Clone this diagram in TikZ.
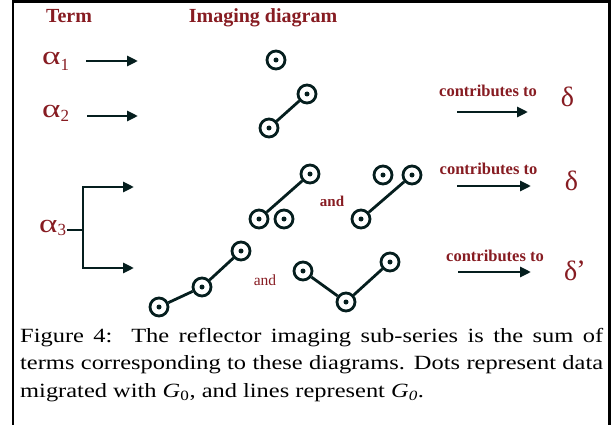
\documentclass[tikz,border=0pt]{standalone}
\usepackage{fontspec}
\setmainfont{Liberation Serif}
\usepackage{graphicx}
\usetikzlibrary{arrows.meta}
\definecolor{tred}{RGB}{135,28,34}
\definecolor{ink}{RGB}{5,30,30}
\newcommand\capsx{1.21}
\newcommand\caplw{481.8}
\newcommand\gsub[2]{\raisebox{#1}{\fontsize{17}{17}\selectfont #2}}
\begin{document}
\begin{tikzpicture}[x=1pt,y=-1pt,
  dot/.style={circle, draw=ink, line width=2.8pt, minimum size=18pt, inner sep=0pt, fill=white,
    path picture={\fill[ink] (path picture bounding box.center) circle (2.5pt);}},
  conn/.style={draw=ink, line width=2.8pt},
  arr/.style={draw=ink, line width=2.9pt, -{Triangle[length=11pt,width=10pt]}},
  hdr/.style={text=tred, font=\fontsize{20}{20}\selectfont\bfseries, inner sep=0pt, anchor=base},
  greek/.style={text=tred, font=\fontsize{26}{26}\selectfont, inner sep=0pt, anchor=base west},
  contr/.style={text=tred, font=\fontsize{16.5}{17}\selectfont\bfseries, inner sep=0pt, anchor=base},
  andb/.style={text=tred, font=\fontsize{15}{15}\selectfont\bfseries, inner sep=0pt, anchor=base},
  andn/.style={text=tred, font=\fontsize{15.5}{15}\selectfont, inner sep=0pt, anchor=base},
  dlt/.style={text=tred, font=\fontsize{28}{28}\selectfont, inner sep=0pt, anchor=base},
  capt/.style={text=black, font=\fontsize{20.2}{27.5}\selectfont, inner sep=0pt, anchor=base west}]
\useasboundingbox (0,0) rectangle (613,425);
\fill[white] (0,0) rectangle (613,425);
% frame
\coordinate (f1) at (13,425);
\coordinate (f2) at (13,1.3);
\coordinate (f3) at (609.5,1.3);
\coordinate (f4) at (609.5,425);
\draw[black, line width=2.6pt] (f1) -- (f2) -- (f3) -- (f4);
% headers
\node[hdr] (term) at (69,22.5) {Term};
\node[hdr] (imgd) at (263,22.5) {Imaging diagram};
% alpha labels
\node[greek] (a1) at (42,65) {\scalebox{1.35}[1]{α}\gsub{-6pt}{1}};
\node[greek] (a2) at (42,118) {\scalebox{1.35}[1]{α}\gsub{-4pt}{2}};
\node[greek] (a3) at (39,232) {\scalebox{1.35}[1]{α}\gsub{-3pt}{3}};
% arrows alpha1, alpha2
\coordinate (a1s) at (86,61); \coordinate (a1e) at (138,61);
\coordinate (a2s) at (87,116); \coordinate (a2e) at (138,116);
\draw[arr] (a1s) -- (a1e);
\draw[arr] (a2s) -- (a2e);
% bracket alpha3
\coordinate (bk) at (83,230);
\coordinate (bt) at (83,187); \coordinate (bb) at (83,268);
\coordinate (bte) at (134,187); \coordinate (bbe) at (134,268);
\draw[draw=ink, line width=2.6pt] ([xshift=1pt]a3.east |- bk) -- (bk);
\draw[draw=ink, line width=2.9pt, {Triangle[length=11pt,width=10pt]}-{Triangle[length=11pt,width=10pt]}] (bte) -- (bt) -- (bb) -- (bbe);
% diagrams
\node[dot] (c1) at (276,60) {};
\node[dot] (c2a) at (269,128) {};
\node[dot] (c2b) at (307,94) {};
\draw[conn] (c2a) -- (c2b);
\node[dot] (c3a) at (259,219) {};
\node[dot] (c3b) at (284,219) {};
\node[dot] (c3c) at (310,174) {};
\draw[conn] (c3a) -- (c3c);
\node[dot] (c4a) at (383,175) {};
\node[dot] (c4b) at (412,175) {};
\node[dot] (c4c) at (361,219) {};
\draw[conn] (c4c) -- (c4b);
\node[dot] (c5a) at (159,307) {};
\node[dot] (c5b) at (202,287) {};
\node[dot] (c5c) at (241,251) {};
\draw[conn] (c5a) -- (c5b);
\draw[conn] (c5b) -- (c5c);
\node[dot] (c6a) at (303,271) {};
\node[dot] (c6b) at (346,302) {};
\node[dot] (c6c) at (390,262) {};
\draw[conn] (c6a) -- (c6b);
\draw[conn] (c6b) -- (c6c);
\node[andb] (and1) at (332,206.5) {and};
\node[andn] (and2) at (265,285) {and};
% contributes
\node[contr] (ct1) at (488,96.5) {contributes to};
\node[contr] (ct2) at (488.5,175) {contributes to};
\node[contr] (ct3) at (495,261.5) {contributes to};
\coordinate (r1s) at (457,112); \coordinate (r1e) at (528,112);
\coordinate (r2s) at (457,186); \coordinate (r2e) at (531,186);
\coordinate (r3s) at (458,272); \coordinate (r3e) at (531,272);
\draw[arr] (r1s) -- (r1e);
\draw[arr] (r2s) -- (r2e);
\draw[arr] (r3s) -- (r3e);
\node[dlt] (d1) at (567.5,107) {δ};
\node[dlt] (d2) at (571.5,190) {δ};
\node[dlt] (d3) at (575,280) {δ\kern-1pt\raisebox{1pt}{\textquoteright}};
% caption
\node[capt] (cap1) at (20,342) {\scalebox{\capsx}[1]{\makebox[\caplw pt][s]{Figure 4:\ \ The reflector imaging sub-series is the sum of}}};
\node[capt] (cap2) at (20,369) {\scalebox{\capsx}[1]{\makebox[\caplw pt][s]{terms corresponding to these diagrams. Dots represent data}}};
\node[capt] (cap3) at (20,397) {\scalebox{\capsx}[1]{migrated with \textit{G}\textsubscript{0}, and lines represent \textit{G\textsubscript{0}}.}};
\end{tikzpicture}
\end{document}
